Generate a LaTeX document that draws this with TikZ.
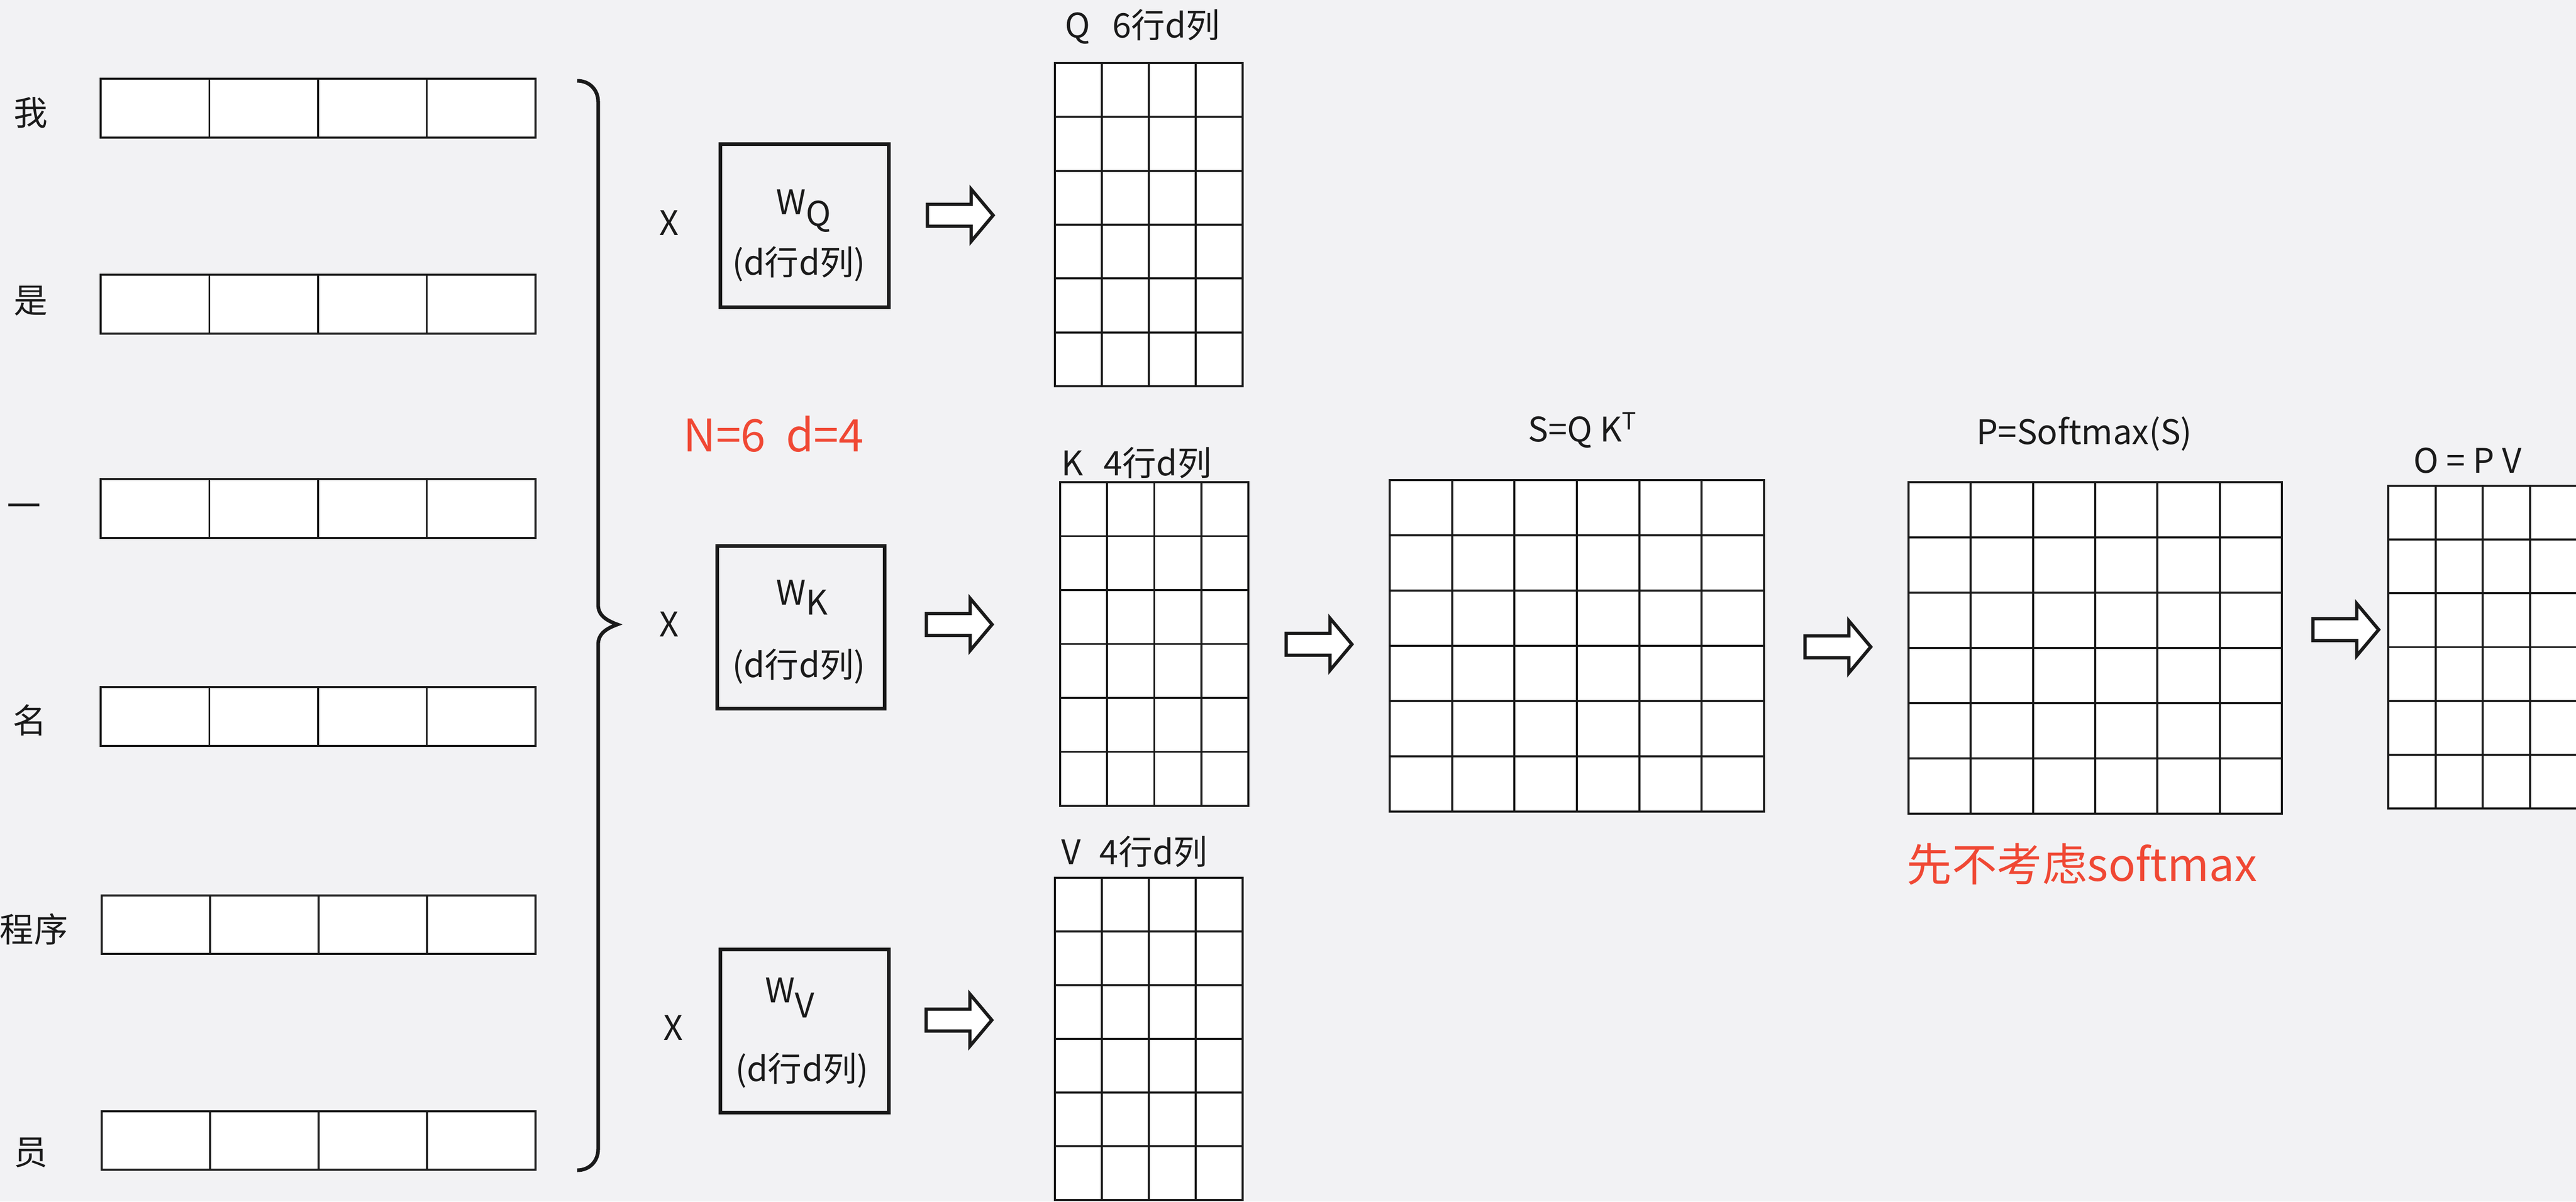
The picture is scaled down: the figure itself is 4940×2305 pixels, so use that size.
\documentclass[tikz,border=0pt]{standalone}
\usepackage{fontspec}
\setmainfont{Noto Sans CJK SC}
\usepackage{tikz}
\usetikzlibrary{positioning, calc}
\definecolor{bgcol}{RGB}{242,242,244}
\definecolor{ink}{RGB}{26,26,26}
\definecolor{notered}{RGB}{240,72,52}
\tikzstyle{lbl}=[inner sep=0pt, text=ink, font=\fontsize{18.5}{22}\selectfont]
\tikzstyle{note}=[inner sep=0pt, text=notered, font=\fontsize{24.5}{29}\selectfont]
\tikzstyle{wbox}=[rectangle, draw=ink, line width=2pt, inner sep=0pt]
\tikzstyle{gridbox}=[rectangle, draw=ink, fill=white, line width=1.1pt, inner sep=0pt, outer sep=0pt]
\tikzstyle{cell}=[draw=ink, line width=1.1pt]
\tikzstyle{brace}=[draw=ink, line width=2pt, line join=miter]
\tikzset{fat arrow/.pic={
  \draw[ink, line width=1.8pt, fill=white, line join=miter]
    (-63,-21) -- (21,-21) -- (21,-50) -- (63,0) -- (21,50) -- (21,21) -- (-63,21) -- cycle;}}

% matrix of cells: name, x0, y0, x1, y1, columns, rows
\newcommand{\matgrid}[7]{%
  \node[gridbox, minimum width={(#4-#2)*0.01cm}, minimum height={(#5-#3)*0.01cm}]
    (#1) at ({(#2+#4)/2},{(#3+#5)/2}) {};
  \foreach \c in {1,...,#6}
    \draw[cell] ({#2+\c*(#4-#2)/#6},#3) -- ({#2+\c*(#4-#2)/#6},#5);
  \foreach \r in {1,...,#7}
    \draw[cell] (#2,{#3+\r*(#5-#3)/#7}) -- (#4,{#3+\r*(#5-#3)/#7});
}

\begin{document}
\begin{tikzpicture}[x=0.01cm, y=-0.01cm]
  \useasboundingbox (0,0) rectangle (4940,2305);
  \fill[bgcol] (0,0) rectangle (4940,2305);

  % word vectors on the left
  \matgrid{r1}{193}{151}{1027}{264}{4}{1}
  \matgrid{r2}{193}{527}{1027}{640}{4}{1}
  \matgrid{r3}{193}{919}{1027}{1032}{4}{1}
  \matgrid{r4}{193}{1318}{1027}{1431}{4}{1}
  \matgrid{r5}{195}{1718}{1027}{1830}{4}{1}
  \matgrid{r6}{195}{2132}{1027}{2244}{4}{1}

  \node[lbl] (t1) at (59,216) {我};
  \node[lbl] (t2) at (59,577) {是};
  \node[lbl] (t3) at (46,980) {一};
  \node[lbl] (t4) at (57,1382) {名};
  \node[lbl] (t5) at (65,1783) {程序};
  \node[lbl] (t6) at (59,2211) {员};

  % brace round all six rows
  \draw[brace] (1107,155) .. controls (1130,155) and (1147,172) .. (1147,195)
    -- (1147,1160) .. controls (1147,1180) and (1162,1190) .. (1184,1198)
    .. controls (1162,1206) and (1147,1216) .. (1147,1237)
    -- (1147,2205) .. controls (1147,2228) and (1130,2245) .. (1107,2245);

  % projection matrices
  \node[lbl, anchor=base] (xq) at (1283,451) {X};
  \node[lbl, anchor=base] (xk) at (1283,1221) {X};
  \node[lbl, anchor=base] (xv) at (1291,1995) {X};

  \node[wbox, minimum width=3.22cm, minimum height=3.12cm] (wq) at (1543,433) {};
  \node[wbox, minimum width=3.20cm, minimum height=3.11cm] (wk) at (1536,1203.5) {};
  \node[wbox, minimum width=3.22cm, minimum height=3.12cm] (wv) at (1543,1978) {};

  \node[lbl, anchor=base west] (nq) at (1488,411) {W\raisebox{-0.35em}{Q}};
  \node[lbl, anchor=base west] (nk) at (1488,1160) {W\raisebox{-0.3em}{K}};
  \node[lbl, anchor=base west] (nv) at (1467,1923) {W\raisebox{-0.45em}{V}};
  \node[lbl] (dq) at (1532,507) {(d行d列)};
  \node[lbl] (dk) at (1532,1278) {(d行d列)};
  \node[lbl] (dv) at (1538,2053) {(d行d列)};

  \node[note, anchor=base west] (nd) at (1310,866) {N=6\hspace{0.45em}d=4};

  \pic (aq) at (1841.5,413) {fat arrow};
  \pic (ak) at (1839.5,1198) {fat arrow};
  \pic (av) at (1839,1957) {fat arrow};

  % Q, K, V
  \matgrid{mq}{2023}{121}{2383}{741}{4}{6}
  \matgrid{mk}{2033}{925}{2394}{1546}{4}{6}
  \matgrid{mv}{2023}{1684}{2383}{2302}{4}{6}
  \node[lbl, anchor=base west] (lq) at (2042,72) {Q\hspace{0.65em}6行d列};
  \node[lbl, anchor=base west] (lk) at (2035,912) {K\hspace{0.6em}4行d列};
  \node[lbl, anchor=base west] (lv) at (2035,1658) {V\hspace{0.55em}4行d列};

  \pic (as) at (2529.5,1236) {fat arrow};

  % scores, probabilities, output
  \matgrid{ms}{2665}{921}{3383}{1557}{6}{6}
  \node[lbl, anchor=base west] (ls) at (2930,847) {S=Q K\textsuperscript{T}};

  \pic (ap) at (3524.5,1241) {fat arrow};

  \matgrid{mp}{3660}{925}{4376}{1561}{6}{6}
  \node[lbl, anchor=base west] (lp) at (3790,852) {P=Softmax(S)};
  \node[note, font=\fontsize{24.6}{30}\selectfont, anchor=base west] (ns) at (3656,1690) {先不考虑softmax};

  \pic (ao) at (4498.5,1208) {fat arrow};

  \matgrid{mo}{4580}{932}{4942}{1551}{4}{6}
  \node[lbl, anchor=base west] (lo) at (4628,907) {O = P V};
\end{tikzpicture}
\end{document}
